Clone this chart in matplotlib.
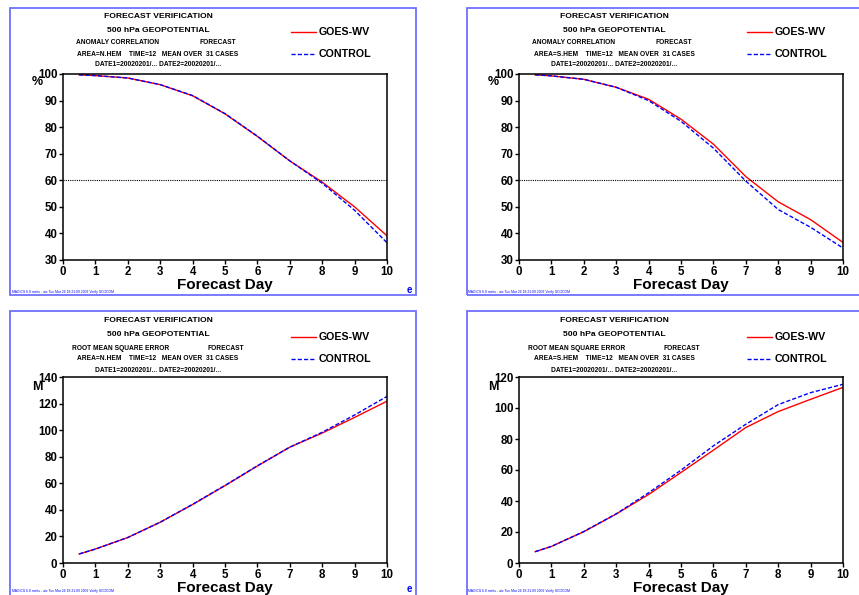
import matplotlib
matplotlib.use("Agg")
import matplotlib.pyplot as plt
from matplotlib.patches import Rectangle
from matplotlib.lines import Line2D

plt.rcParams['font.family'] = ['Liberation Sans', 'DejaVu Sans']

days = [0.5, 1, 2, 3, 4, 5, 6, 7, 8, 9, 10]
x_ticks = [0, 1, 2, 3, 4, 5, 6, 7, 8, 9, 10]

acc_nh_goes = [99.7, 99.4, 98.5, 96.0, 91.8, 85.0, 76.5, 67.3, 59.3, 50.0, 39.1]
acc_nh_ctrl = [99.7, 99.4, 98.5, 96.0, 91.9, 85.1, 76.6, 67.3, 58.9, 48.7, 36.5]
acc_sh_goes = [99.7, 99.3, 98.0, 95.0, 90.5, 83.0, 73.6, 61.4, 51.9, 45.2, 36.6]
acc_sh_ctrl = [99.7, 99.3, 98.0, 95.0, 90.0, 82.2, 72.1, 59.7, 49.0, 42.3, 34.5]
rms_nh_goes = [6.8, 10.5, 19.2, 30.7, 44.0, 58.2, 73.0, 87.2, 97.8, 109.6, 121.8]
rms_nh_ctrl = [6.8, 10.5, 19.2, 30.7, 44.2, 58.4, 73.2, 87.2, 98.4, 111.4, 125.4]
rms_sh_goes = [7.3, 10.7, 20.2, 31.6, 44.2, 58.4, 72.8, 87.4, 97.7, 105.6, 113.3]
rms_sh_ctrl = [7.3, 10.7, 20.3, 31.7, 45.3, 59.9, 75.6, 89.5, 102.2, 109.9, 115.3]

series_names = ["GOES-WV", "CONTROL"]
title1 = "FORECAST VERIFICATION"
title2 = "500 hPa GEOPOTENTIAL"
date_line = "DATE1=20020201/... DATE2=20020201/..."
footer = "MAGICS 6.8 metis - aix Tue Mar 26 18:21:09 2002 Verify SCOCOM"

W, H = 859, 595
fig = plt.figure(figsize=(W / 100, H / 100), dpi=100)
BORDER = '#6f6fff'


def fx(px):
    return px / W


def fy(py):
    return 1 - py / H


panels = [
    dict(dx=0, dy=0, goes=acc_nh_goes, ctrl=acc_nh_ctrl, ylim=(30, 100), yt=range(30, 101, 10),
         unit='%', score="ANOMALY CORRELATION", area="N.HEM", s_left=76, f_left=200,
         ref=60, logo=True),
    dict(dx=456, dy=0, goes=acc_sh_goes, ctrl=acc_sh_ctrl, ylim=(30, 100), yt=range(30, 101, 10),
         unit='%', score="ANOMALY CORRELATION", area="S.HEM", s_left=76, f_left=200,
         ref=60, logo=False),
    dict(dx=0, dy=303, goes=rms_nh_goes, ctrl=rms_nh_ctrl, ylim=(0, 140), yt=range(0, 141, 20),
         unit='M', score="ROOT MEAN SQUARE ERROR", area="N.HEM", s_left=72, f_left=207,
         ref=None, logo=True),
    dict(dx=456, dy=303, goes=rms_sh_goes, ctrl=rms_sh_ctrl, ylim=(0, 120), yt=range(0, 121, 20),
         unit='M', score="ROOT MEAN SQUARE ERROR", area="S.HEM", s_left=72, f_left=207,
         ref=None, logo=False),
]

for p in panels:
    dx, dy = p['dx'], p['dy']
    left = 10 + dx + (1 if dx else 0)
    fig.patches.append(Rectangle((fx(left), fy(295 + dy + (400 if dy else 0))),
                                 fx(406 + (300 if dx else 0)),
                                 (287 + (400 if dy else 0)) / H,
                                 transform=fig.transFigure, fill=False,
                                 edgecolor=BORDER, lw=1.3))
    ax = fig.add_axes([fx(63 + dx), fy(260 + dy), fx(324), 186 / H])
    ax.plot(days, p['goes'], color='red', lw=1.0, label=series_names[0])
    ax.plot(days, p['ctrl'], color='blue', lw=1.0, ls=(0, (3, 1.5)), label=series_names[1])
    if p['ref'] is not None:
        ax.axhline(p['ref'], color='black', lw=0.8, ls=(0, (1, 1)))
    ax.set_xlim(0, 10)
    ax.set_ylim(*p['ylim'])
    ax.set_xticks(x_ticks)
    ax.set_yticks(list(p['yt']))
    ax.tick_params(direction='out', length=3, width=1, pad=1, labelsize=8.3)
    for lab in ax.get_xticklabels() + ax.get_yticklabels():
        lab.set_fontweight('bold')
    for s in ax.spines.values():
        s.set_linewidth(1.1)
    ax.set_xlabel("Forecast Day", fontsize=11, fontweight='bold', labelpad=0)

    yoff = dy + (2 if dy else 0)
    fig.text(fx(37 + dx), fy(82 + yoff), p['unit'], fontsize=9, fontweight='bold',
             ha='center', va='center')
    fig.text(fx(158 + dx), fy(16 + yoff), title1, fontsize=6.1, fontweight='bold',
             ha='center', va='center')
    fig.text(fx(158 + dx), fy(30 + yoff), title2, fontsize=6.1, fontweight='bold',
             ha='center', va='center')
    fig.text(fx(p['s_left'] + dx), fy(43 + yoff), p['score'], fontsize=4.8, fontweight='bold',
             ha='left', va='center')
    fig.text(fx(p['f_left'] + dx), fy(43 + yoff), "FORECAST", fontsize=4.8, fontweight='bold',
             ha='left', va='center')
    fig.text(fx(158 + dx), fy(54 + yoff),
             "AREA=%s    TIME=12   MEAN OVER  31 CASES" % p['area'],
             fontsize=4.8, fontweight='bold', ha='center', va='center')
    fig.text(fx(158 + dx), fy(65 + yoff), date_line, fontsize=4.8, fontweight='bold',
             ha='center', va='center')
    fig.add_artist(Line2D([fx(291 + dx), fx(316 + dx)], [fy(32 + yoff)] * 2,
                          color='red', lw=1.0, transform=fig.transFigure))
    fig.add_artist(Line2D([fx(291 + dx), fx(316 + dx)], [fy(54 + yoff)] * 2,
                          color='blue', lw=1.0, ls=(0, (3, 1.5)), transform=fig.transFigure))
    fig.text(fx(319 + dx), fy(32 + yoff), series_names[0], fontsize=7.7, fontweight='bold',
             ha='left', va='center')
    fig.text(fx(319 + dx), fy(54 + yoff), series_names[1], fontsize=7.7, fontweight='bold',
             ha='left', va='center')
    fig.text(fx(12 + dx), fy(292 + (299 - 0 if dy else 0) if dy else 292), footer,
             fontsize=2.4, color='blue', ha='left', va='center')
    if p['logo']:
        fig.text(fx(409 + dx), fy(290 + (299 if dy else 0)), "e", fontsize=7, fontweight='bold',
                 color='blue', ha='center', va='center')

fig.savefig("out.png", dpi=100)
